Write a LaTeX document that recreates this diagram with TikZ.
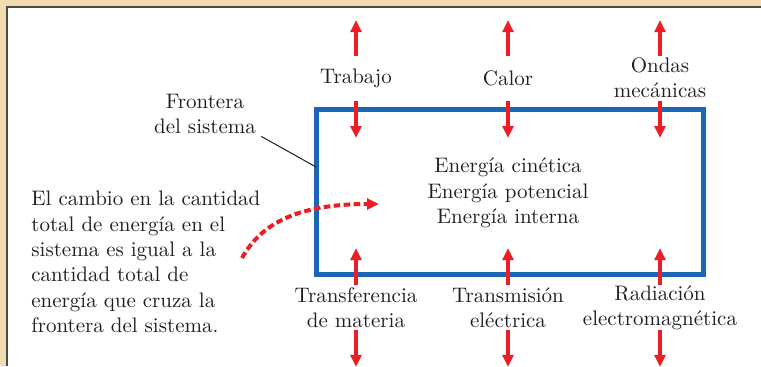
\documentclass[tikz,border=0pt]{standalone}
\usetikzlibrary{arrows.meta}
\definecolor{framebg}{HTML}{F0DDB4}
\definecolor{frameline}{HTML}{4D4A45}
\definecolor{sysblue}{HTML}{1B67B5}
\definecolor{flowred}{HTML}{EE1C25}
\definecolor{ink}{HTML}{231F20}
\begin{document}
\begin{tikzpicture}[x=0.5pt,y=-0.5pt,
  lbl/.style={align=center,text=ink,font=\fontsize{10.5}{12.7}\selectfont,inner sep=1pt},
  flow/.style={flowred,line width=2pt,-{Triangle[width=5.4pt,length=6pt]}}]
  \useasboundingbox (0,0) rectangle (761,366);
  \fill[framebg] (0,0) rectangle (761,366);
  \fill[white] (6,6) rectangle (761,366);
  \draw[frameline,line width=1pt] (6.5,366)--(6.5,6.5)--(761,6.5);
  \draw[sysblue,line width=2.5pt] (316,109.5) rectangle (703,274);
  \node[lbl] (trabajo) at (356,78) {Trabajo};
  \node[lbl] (calor) at (508,78) {Calor};
  \node[lbl] (ondas) at (660,78) {Ondas\\mec\'anicas};
  \node[lbl] (transf) at (356,308) {Transferencia\\de materia};
  \node[lbl] (transm) at (508,308) {Transmisi\'on\\el\'ectrica};
  \node[lbl] (radiac) at (660,308) {Radiaci\'on\\electromagn\'etica};
  \node[lbl] (energias) at (508,193) {Energ\'ia cin\'etica\\Energ\'ia potencial\\Energ\'ia interna};
  \node[lbl] (frontera) at (205,114) {Frontera\\del sistema};
  \node[lbl,align=left,anchor=west] (cambio) at (29,262) {El cambio en la cantidad\\total de energ\'ia en el\\sistema es igual a la\\cantidad total de\\energ\'ia que cruza la\\frontera del sistema.};
  \coordinate (borde) at (316,167);
  \draw[ink,line width=0.5pt] ([xshift=1.5pt]frontera.south east) -- (borde);
  \foreach \x [count=\i] in {356,508,660}{
    \coordinate (a\i) at (\x,56);  \coordinate (b\i) at (\x,20);
    \coordinate (c\i) at (\x,101); \coordinate (d\i) at (\x,138);
    \coordinate (e\i) at (\x,285); \coordinate (f\i) at (\x,248);
    \coordinate (g\i) at (\x,330); \coordinate (h\i) at (\x,367);
    \draw[flow] (a\i) -- (b\i);
    \draw[flow] (c\i) -- (d\i);
    \draw[flow] (e\i) -- (f\i);
    \draw[flow] (g\i) -- (h\i);
  }
  \coordinate (cs) at (242,258);
  \coordinate (ce) at (379,204);
  \draw[flow,dash pattern=on 3.3pt off 1.7pt] (cs) .. controls (262,222) and (300,204) .. (ce);
\end{tikzpicture}
\end{document}
